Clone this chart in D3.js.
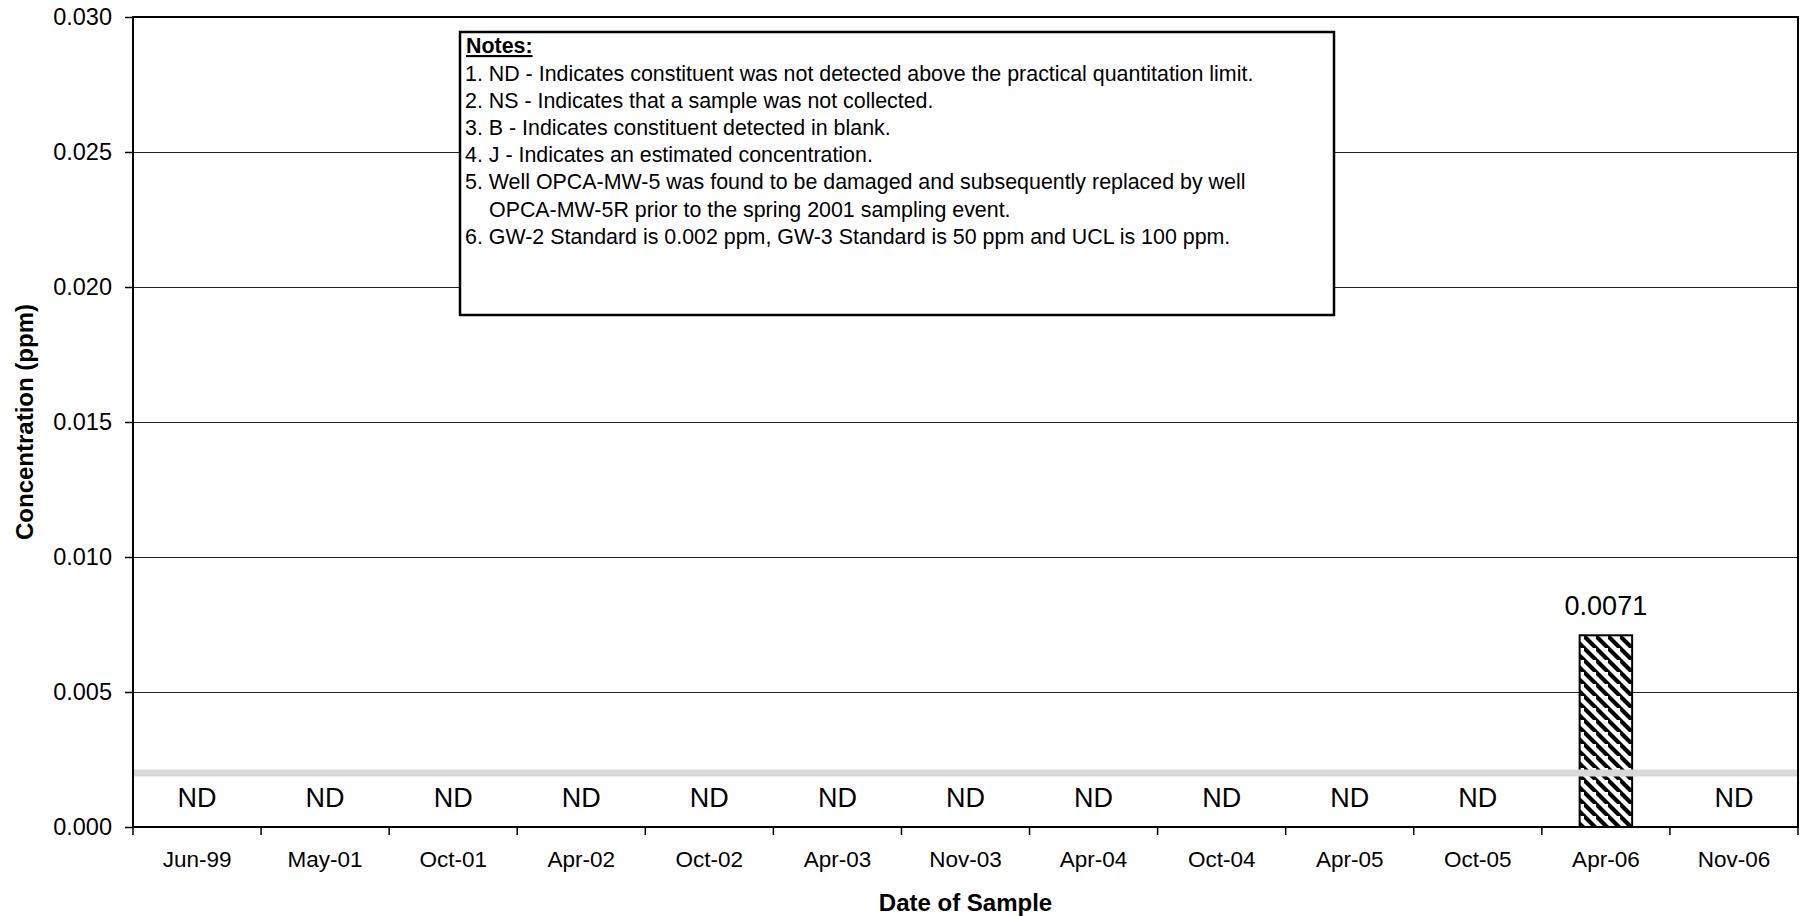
<!DOCTYPE html>
<html>
<head>
<meta charset="utf-8">
<script src="https://cdn.jsdelivr.net/npm/d3@7"></script>
<style>
  html, body { margin: 0; padding: 0; background: #fff; }
  svg { display: block; font-family: "Liberation Sans", Arial, sans-serif; }
</style>
</head>
<body>
<svg id="chart" width="1807" height="916"></svg>
<script>
// ---- data ----
const categories = ["Jun-99","May-01","Oct-01","Apr-02","Oct-02","Apr-03","Nov-03","Apr-04","Oct-04","Apr-05","Oct-05","Apr-06","Nov-06"];
const values = [null,null,null,null,null,null,null,null,null,null,null,0.0071,null];
const pointLabels = ["ND","ND","ND","ND","ND","ND","ND","ND","ND","ND","ND","0.0071","ND"];
const yTicks = [0, 0.005, 0.010, 0.015, 0.020, 0.025, 0.030];
const gw2Standard = 0.002;
const notesTitle = "Notes:";
const notesLines = [
  "1. ND - Indicates constituent was not detected above the practical quantitation limit.",
  "2. NS - Indicates that a sample was not collected.",
  "3. B - Indicates constituent detected in blank.",
  "4. J - Indicates an estimated concentration.",
  "5. Well OPCA-MW-5 was found to be damaged and subsequently replaced by well",
  "OPCA-MW-5R prior to the spring 2001 sampling event.",
  "6. GW-2 Standard is 0.002 ppm, GW-3 Standard is 50 ppm and UCL is 100 ppm."
];
const notesIndent = [false,false,false,false,false,true,false];
const xTitle = "Date of Sample";
const yTitle = "Concentration (ppm)";

// ---- layout ----
const L = 133, R = 1798, T = 17, B = 827;
const svg = d3.select("#chart");

const x = d3.scaleBand().domain(categories).range([L, R]).padding(0);
const y = d3.scaleLinear().domain([0, 0.030]).range([B, T]);

// hatch pattern
const defs = svg.append("defs");
const pat = defs.append("pattern").attr("id","hatch").attr("patternUnits","userSpaceOnUse")
  .attr("width", 12).attr("height", 12);
pat.append("rect").attr("width",12).attr("height",12).attr("fill","#fff");
pat.append("path").attr("d","M-3,-3 L15,15 M-9,3 L3,15 M9,-9 L21,3 M-3,9 L3,15")
  .attr("stroke","#000").attr("stroke-width",4.2);

// gridlines
svg.append("g").selectAll("line").data(yTicks.filter(d => d > 0 && d < 0.030)).join("line")
  .attr("x1", L).attr("x2", R).attr("y1", d => Math.round(y(d)) + 0.5).attr("y2", d => Math.round(y(d)) + 0.5)
  .attr("stroke", "#222").attr("stroke-width", 1);

// bars
const bw = x.bandwidth() * 0.41;
svg.append("g").selectAll("rect").data(categories.map((c,i)=>({c, v: values[i]})).filter(d => d.v != null)).join("rect")
  .attr("x", d => x(d.c) + x.bandwidth()/2 - bw/2)
  .attr("y", d => y(d.v))
  .attr("width", bw)
  .attr("height", d => y(0) - y(d.v))
  .attr("fill", "url(#hatch)").attr("stroke", "#000").attr("stroke-width", 2);

// GW-2 standard line
svg.append("line").attr("x1", L).attr("x2", R).attr("y1", y(gw2Standard)).attr("y2", y(gw2Standard))
  .attr("stroke", "#d9d9d9").attr("stroke-width", 7);

// point labels
svg.append("g").selectAll("text").data(categories.map((c,i)=>({c, v: values[i], t: pointLabels[i]}))).join("text")
  .attr("x", d => x(d.c) + x.bandwidth()/2)
  .attr("y", d => d.v == null ? y(0) - 20 : y(d.v) - 20)
  .attr("text-anchor", "middle").attr("font-size", 27).attr("fill", "#000")
  .text(d => d.t);

// plot border
svg.append("rect").attr("x", L).attr("y", T).attr("width", R - L).attr("height", B - T)
  .attr("fill", "none").attr("stroke", "#000").attr("stroke-width", 2);

// y axis
const yAxis = svg.append("g").attr("transform", `translate(${L},0)`)
  .call(d3.axisLeft(y).tickValues(yTicks).tickFormat(d3.format(".3f")).tickSize(8).tickPadding(13));
yAxis.select(".domain").remove();
yAxis.selectAll("line").attr("stroke", "#000").attr("stroke-width", 1.5);
yAxis.selectAll("text").attr("font-size", 23.5).attr("fill", "#000").attr("font-family", null);

// x axis labels
const xAxis = svg.append("g").attr("transform", `translate(0,${B})`)
  .call(d3.axisBottom(x).tickSize(0).tickPadding(24));
xAxis.select(".domain").remove();
xAxis.selectAll("text").attr("font-size", 22.5).attr("fill", "#000").attr("font-family", null);
// x ticks at category boundaries
svg.append("g").selectAll("line").data(categories.concat(["__end"])).join("line")
  .attr("x1", (d,i) => L + i * x.step()).attr("x2", (d,i) => L + i * x.step())
  .attr("y1", B).attr("y2", B + 8).attr("stroke", "#000").attr("stroke-width", 1.5);

// axis titles
svg.append("text").attr("x", (L + R)/2).attr("y", 911).attr("text-anchor", "middle")
  .attr("font-size", 24).attr("font-weight", "bold").text(xTitle);
svg.append("text").attr("transform", `translate(33,${(T + B)/2}) rotate(-90)`).attr("text-anchor", "middle")
  .attr("font-size", 24).attr("font-weight", "bold").text(yTitle);

// notes box
const nb = {x: 460, y: 32, w: 874, h: 283};
svg.append("rect").attr("x", nb.x).attr("y", nb.y).attr("width", nb.w).attr("height", nb.h)
  .attr("fill", "#fff").attr("stroke", "#000").attr("stroke-width", 2.5);
svg.append("text").attr("x", nb.x + 6).attr("y", nb.y + 21).attr("font-size", 21.4)
  .attr("font-weight", "bold").attr("text-decoration", "underline").text(notesTitle);
svg.append("g").selectAll("text").data(notesLines).join("text")
  .attr("x", (d,i) => nb.x + 5 + (notesIndent[i] ? 24 : 0))
  .attr("y", (d,i) => nb.y + 49 + i * 27.1)
  .attr("font-size", 21.4).text(d => d);
</script>
</body>
</html>
